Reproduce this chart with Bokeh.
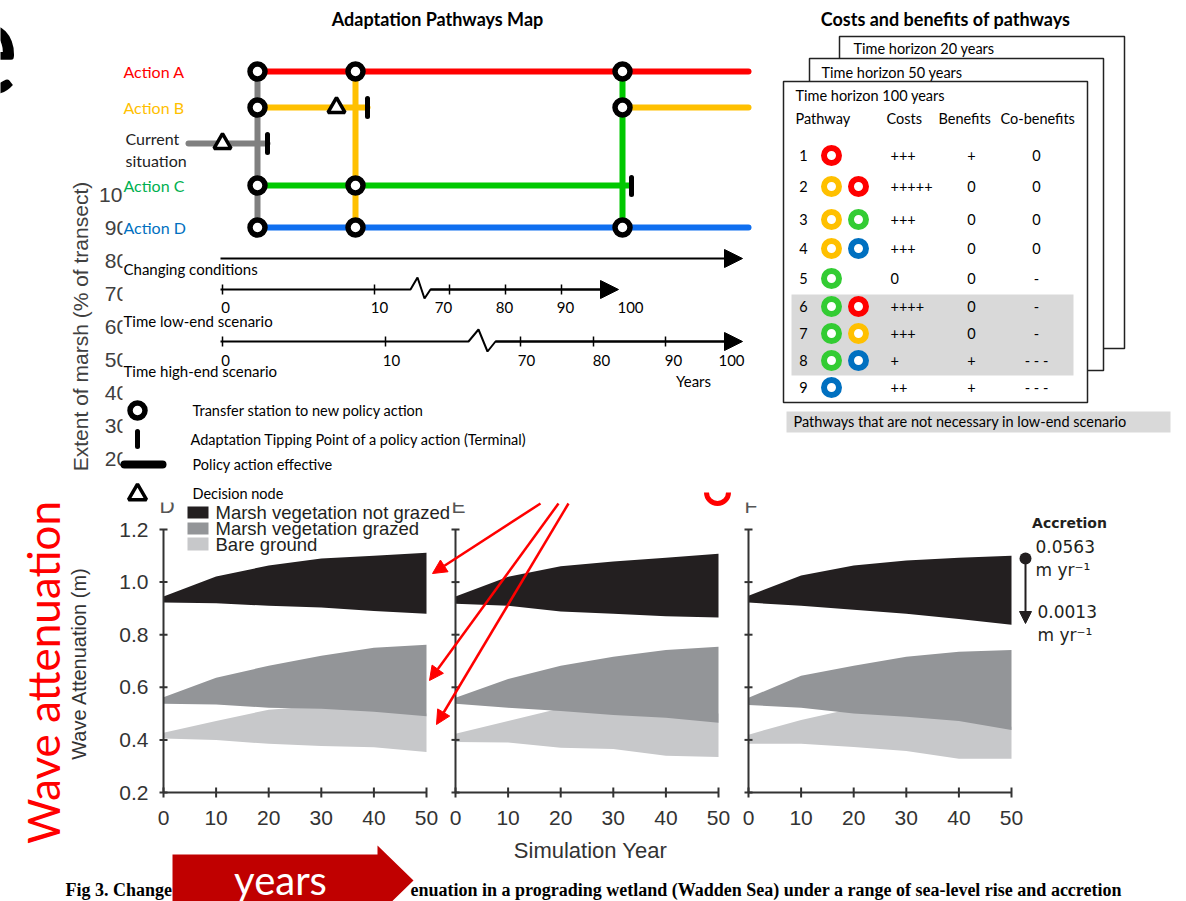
import math
from bokeh.plotting import figure
from bokeh.models import Range1d, Arrow, NormalHead
from bokeh.core.properties import value
from bokeh.embed import file_html
from bokeh.resources import INLINE

W, H = 1186, 901

# ---------------- wave attenuation (panels D, E, F) ----------------
sim_years = [0, 10, 20, 30, 40, 50]
atten_ticks = [0.2, 0.4, 0.6, 0.8, 1.0, 1.2]

d_ungrazed_lo = [0.922, 0.920, 0.910, 0.903, 0.890, 0.880]
d_ungrazed_hi = [0.945, 1.021, 1.063, 1.090, 1.100, 1.112]
d_grazed_lo = [0.537, 0.535, 0.522, 0.518, 0.507, 0.490]
d_grazed_hi = [0.562, 0.636, 0.682, 0.720, 0.750, 0.762]
d_bare_lo = [0.405, 0.400, 0.385, 0.377, 0.372, 0.354]
d_bare_hi = [0.427, 0.472, 0.515, 0.530, 0.520, 0.500]

e_ungrazed_lo = [0.918, 0.910, 0.888, 0.880, 0.870, 0.865]
e_ungrazed_hi = [0.945, 1.020, 1.060, 1.078, 1.093, 1.108]
e_grazed_lo = [0.537, 0.522, 0.510, 0.495, 0.484, 0.465]
e_grazed_hi = [0.560, 0.632, 0.682, 0.716, 0.742, 0.754]
e_bare_lo = [0.392, 0.390, 0.370, 0.365, 0.340, 0.335]
e_bare_hi = [0.423, 0.472, 0.520, 0.530, 0.520, 0.500]

f_ungrazed_lo = [0.922, 0.910, 0.895, 0.880, 0.860, 0.838]
f_ungrazed_hi = [0.948, 1.025, 1.063, 1.082, 1.093, 1.100]
f_grazed_lo = [0.533, 0.522, 0.500, 0.488, 0.472, 0.438]
f_grazed_hi = [0.560, 0.644, 0.682, 0.716, 0.735, 0.742]
f_bare_lo = [0.385, 0.385, 0.373, 0.358, 0.328, 0.328]
f_bare_hi = [0.420, 0.476, 0.520, 0.520, 0.500, 0.450]

extent_ticks = [100, 90, 80, 70, 60, 50, 40, 30, 20]

legend_labels = ["Marsh vegetation not grazed", "Marsh vegetation grazed", "Bare ground"]
band_colors = ["#231F20", "#939598", "#C7C8CA"]

# ---------------- pathways table ----------------
pathway_no = [1, 2, 3, 4, 5, 6, 7, 8, 9]
pathway_actions = [["A"], ["B", "A"], ["B", "C"], ["B", "D"], ["C"],
                   ["C", "A"], ["C", "B"], ["C", "D"], ["D"]]
pathway_costs = ["+++", "+++++", "+++", "+++", "0", "++++", "+++", "+", "++"]
pathway_benefits = ["+", "0", "0", "0", "0", "0", "0", "+", "+"]
pathway_cobenefits = ["0", "0", "0", "0", "-", "-", "-", "- - -", "- - -"]
not_needed_low_end = [6, 7, 8]

# timeline tick values
low_end_ticks = [0, 10, 70, 80, 90, 100]
high_end_ticks = [0, 10, 70, 80, 90, 100]

# ---------------- canvas ----------------
def x_map(v0, p0, v1, p1):
    f = lambda p: v0 + (p - p0) * (v1 - v0) / (p1 - p0)
    return Range1d(start=f(0), end=f(W))


def y_map(v0, p0, v1, p1):
    f = lambda p: v0 + (p - p0) * (v1 - v0) / (p1 - p0)
    return Range1d(start=f(H), end=f(0))


p = figure(width=W, height=H, x_range=Range1d(0, W), y_range=Range1d(H, 0),
           output_backend="svg", toolbar_location=None, min_border=0,
           x_axis_location=None, y_axis_location=None,
           outline_line_color=None, background_fill_color="white",
           border_fill_color="white")
p.grid.visible = False

p.extra_x_ranges = {
    "D": x_map(0, 163, 50, 426),
    "E": x_map(0, 455, 50, 718),
    "F": x_map(0, 748, 50, 1011),
}
p.extra_y_ranges = {
    "atten": y_map(1.2, 529, 0.2, 792),
    "extent": y_map(100, 194, 20, 458),
}

CAL = "Lato"
ARIAL = "Liberation Sans"
AX = "#333333"


def txt(x, y, s, size, color="black", font=CAL, style="normal", align="left",
        baseline="middle", angle=0.0, **kw):
    xs = x if isinstance(x, list) else [x]
    ys = y if isinstance(y, list) else [y]
    ss = s if isinstance(s, list) else [s]
    return p.text(x=xs, y=ys, text=ss, text_font=value(font),
                  text_font_size=f"{size}px", text_color=color,
                  text_font_style=style, text_align=align,
                  text_baseline=baseline, angle=angle, **kw)


# ---------------- Fig 3: extent of marsh axis (mostly hidden) ----------------
txt(80, 326, "Extent of marsh (% of transect)", 21, color="#404040", font=ARIAL,
    align="center", angle=math.pi / 2)
txt([116] * len(extent_ticks), extent_ticks, [str(v) for v in extent_ticks], 21,
    color="#404040", font=ARIAL, align="center", y_range_name="extent")

# ---------------- Fig 3: wave attenuation panels ----------------
panels = {
    "D": (d_bare_lo, d_bare_hi, d_grazed_lo, d_grazed_hi, d_ungrazed_lo, d_ungrazed_hi),
    "E": (e_bare_lo, e_bare_hi, e_grazed_lo, e_grazed_hi, e_ungrazed_lo, e_ungrazed_hi),
    "F": (f_bare_lo, f_bare_hi, f_grazed_lo, f_grazed_hi, f_ungrazed_lo, f_ungrazed_hi),
}
for name, (b_lo, b_hi, g_lo, g_hi, u_lo, u_hi) in panels.items():
    kw = dict(x_range_name=name, y_range_name="atten")
    p.varea(x=sim_years, y1=b_lo, y2=b_hi, fill_color=band_colors[2], **kw)
    p.varea(x=sim_years, y1=g_lo, y2=g_hi, fill_color=band_colors[1], **kw)
    p.varea(x=sim_years, y1=u_lo, y2=u_hi, fill_color=band_colors[0], **kw)
    x0, x1 = sim_years[0], sim_years[-1]
    y0, y1 = atten_ticks[0], atten_ticks[-1]
    p.line(x=[x0, x0, x1], y=[y1, y0, y0], line_color=AX, line_width=2, **kw)
    p.scatter(x=[x0] * len(atten_ticks), y=atten_ticks, marker="dash", size=8,
              line_color=AX, line_width=2, **kw)
    p.scatter(x=sim_years, y=[y0] * len(sim_years), marker="dash", size=10,
              angle=math.pi / 2, line_color=AX, line_width=2, **kw)
    txt(sim_years, [817] * len(sim_years), [str(v) for v in sim_years], 21,
        color=AX, font=ARIAL, align="center", x_range_name=name)
    txt(sim_years[0], 505, name, 21, color="#555555", font=ARIAL,
        align="left", x_offset=-4, x_range_name=name)

txt([148] * len(atten_ticks), atten_ticks, [f"{v:.1f}" for v in atten_ticks], 21,
    color=AX, font=ARIAL, align="right", y_range_name="atten")
txt(78, 663, "Wave Attenuation (m)", 20, color=AX, font=ARIAL, align="center",
    angle=math.pi / 2)
txt(590, 850, "Simulation Year", 22, color=AX, font=ARIAL, align="center")

# legend of Fig 3
p.quad(left=[187] * 3, right=[208] * 3, top=[506, 522, 537], bottom=[518, 534, 550],
       fill_color=band_colors, line_color=None)
txt([215] * 3, [512, 528, 544], legend_labels, 18.5, color="#231F20", font=ARIAL)

# accretion gradient
txt(1069, 522, "Accretion", 14, color="#231F20", font="DejaVu Sans", style="bold",
    align="center")
txt([1035, 1035, 1037, 1037], [546, 569, 611, 634],
    ["0.0563", "m yr\u207b\u00b9", "0.0013", "m yr\u207b\u00b9"], 17,
    color="#231F20", font="DejaVu Sans")
p.scatter(x=[1025], y=[558], size=12, fill_color="#231F20", line_color=None)
p.add_layout(Arrow(end=NormalHead(size=12, fill_color="#231F20", line_color="#231F20"),
                   x_start=1025, y_start=558, x_end=1025, y_end=623,
                   line_color="#231F20", line_width=2))

# red call-out arrows
for xs, xe, ye in [(540, 432, 573), (558, 429, 680), (568, 436, 724)]:
    p.add_layout(Arrow(end=NormalHead(size=14, fill_color="#FF0000", line_color="#FF0000"),
                       x_start=xs, y_start=503, x_end=xe, y_end=ye,
                       line_color="#FF0000", line_width=2.5))

# ---------------- white sheet of the pathways slide ----------------
p.quad(left=[122], right=[W], top=[0], bottom=[502], fill_color="white",
       line_color=None)

p.arc(x=[717], y=[492], radius=11, start_angle=math.pi, end_angle=2 * math.pi,
      direction="anticlock", line_color="#FF0000", line_width=5)

# ---------------- Adaptation Pathways Map ----------------
txt(437, 18, "Adaptation Pathways Map", 18, style="bold", align="center")

RED, ORANGE, GREEN, BLUE, GREY = "#FF0000", "#FFC000", "#00C800", "#0F6FF0", "#808080"
row_y = {"A": 71, "B": 107, "cur": 143, "C": 185, "D": 227}

txt([123, 123, 125, 125, 123, 123],
    [row_y["A"], row_y["B"], 138, 160, row_y["C"], row_y["D"]],
    ["Action A", "Action B", "Current", "situation", "Action C", "Action D"], 16,
    color=[RED, ORANGE, "#222222", "#222222", "#00B050", "#0070C0"])

# horizontal tracks
p.segment(x0=[257, 257, 622, 188, 257, 257], x1=[748, 367, 748, 267, 630, 748],
          y0=[row_y["A"], row_y["B"], row_y["B"], row_y["cur"], row_y["C"], row_y["D"]],
          y1=[row_y["A"], row_y["B"], row_y["B"], row_y["cur"], row_y["C"], row_y["D"]],
          line_color=[RED, ORANGE, ORANGE, GREY, GREEN, BLUE], line_width=6,
          line_cap="round")
# transfers
p.segment(x0=[257, 355, 622], x1=[257, 355, 622], y0=[row_y["A"]] * 3,
          y1=[row_y["D"]] * 3, line_color=[GREY, ORANGE, GREEN], line_width=6)
# tipping points
p.segment(x0=[267, 367, 631], x1=[267, 367, 631], y0=[134, 98, 177],
          y1=[152, 116, 194], line_color="black", line_width=5, line_cap="round")
# decision nodes
p.scatter(x=[222, 336], y=[143, 107], marker="triangle", size=17,
          fill_color="white", line_color="black", line_width=3.5)
# transfer stations
node_x = [257, 257, 257, 257, 355, 355, 355, 622, 622, 622]
node_y = [71, 107, 185, 227, 71, 185, 227, 71, 107, 227]
p.scatter(x=node_x, y=node_y, marker="circle", size=15, fill_color="white",
          line_color="black", line_width=5.5)

# timelines
txt(123, 268, "Changing conditions", 15)
txt(123, 320, "Time low-end scenario", 15)
txt(123, 370, "Time high-end scenario", 15)

p.add_layout(Arrow(end=NormalHead(size=18, fill_color="black"), x_start=220, y_start=258,
                   x_end=742, y_end=258, line_width=2))
p.line(x=[220, 410, 417, 424, 430, 600], y=[289, 289, 277, 298, 289, 289],
       line_color="black", line_width=2)
p.add_layout(Arrow(end=NormalHead(size=18, fill_color="black"), x_start=430, y_start=289,
                   x_end=618, y_end=289, line_width=2))
p.line(x=[220, 468, 478, 487, 495, 725], y=[341, 341, 329, 351, 341, 341],
       line_color="black", line_width=2)
p.add_layout(Arrow(end=NormalHead(size=18, fill_color="black"), x_start=495, y_start=341,
                   x_end=742, y_end=341, line_width=2))

low_tick_x = [222, 374, 449, 505, 561]
high_tick_x = [222, 385, 520, 593, 665]
p.segment(x0=low_tick_x, x1=low_tick_x, y0=[284] * 5, y1=[294] * 5,
          line_color="black", line_width=1.5)
p.segment(x0=high_tick_x, x1=high_tick_x, y0=[336] * 5, y1=[346] * 5,
          line_color="black", line_width=1.5)
txt([225, 379, 443, 504, 565, 630], [307] * 6, [str(v) for v in low_end_ticks], 15,
    align="center")
txt([225, 391, 526, 601, 673, 731], [360] * 6, [str(v) for v in high_end_ticks], 15,
    align="center")
txt(693, 380, "Years", 15, align="center")

# symbol legend
p.scatter(x=[137], y=[410], marker="circle", size=15, fill_color="white",
          line_color="black", line_width=5.5)
p.segment(x0=[137, 124], x1=[137, 162], y0=[431, 464], y1=[446, 464],
          line_color="black", line_width=[5, 8], line_cap="round")
p.scatter(x=[137], y=[494], marker="triangle", size=18, fill_color="white",
          line_color="black", line_width=3.5)
txt([192, 190, 192, 192], [410, 439, 464, 493],
    ["Transfer station to new policy action",
     "Adaptation Tipping Point of a policy action (Terminal)",
     "Policy action effective", "Decision node"], 14.5)

# ---------------- Costs and benefits table ----------------
txt(945, 18, "Costs and benefits of pathways", 18, style="bold", align="center")
p.quad(left=[839, 809, 783], right=[1124, 1103, 1087], top=[36, 58, 81],
       bottom=[348, 370, 402], fill_color="white", line_color="#222222",
       line_width=1.5)
txt([853, 821, 795], [48, 72, 95],
    ["Time horizon 20 years", "Time horizon 50 years", "Time horizon 100 years"], 14.5)
txt([795, 886, 938, 1000], [118] * 4, ["Pathway", "Costs", "Benefits", "Co-benefits"], 14.5)

table_y = [155, 186, 219, 248, 278, 306, 333, 360, 387]
grey_rows = [table_y[pathway_no.index(n)] for n in not_needed_low_end]
p.quad(left=[791], right=[1073], top=[grey_rows[0] - 12], bottom=[grey_rows[-1] + 15],
       fill_color="#D9D9D9", line_color=None)

ring_color = {"A": "#FF0000", "B": "#FFC000", "C": "#33CC33", "D": "#0070C0"}
rx, ry, rc = [], [], []
for yy, acts in zip(table_y, pathway_actions):
    for k, a in enumerate(acts):
        rx.append(831 + 27 * k)
        ry.append(yy)
        rc.append(ring_color[a])
p.scatter(x=rx, y=ry, marker="circle", size=15, fill_color="white", line_color=rc,
          line_width=6)
txt([803] * 9, table_y, [str(n) for n in pathway_no], 14.5, align="center")
txt([890] * 9, table_y, pathway_costs, 14.5)
txt([971] * 9, table_y, pathway_benefits, 14.5, align="center")
txt([1036] * 9, table_y, pathway_cobenefits, 14.5, align="center")

p.quad(left=[786], right=[1170], top=[411], bottom=[432], fill_color="#D9D9D9",
       line_color=None)
txt(793, 421, "Pathways that are not necessary in low-end scenario", 14.5)

# ---------------- slide overlays ----------------
txt(19, 44, "e", 140, align="right")
txt(42, 672, "Wave attenuation", 44, color="#FF0000", align="center",
    angle=math.pi / 2)

txt(65, 889, "Fig 3. Change", 18, font="Liberation Serif", style="bold")
txt(410, 889, "enuation in a prograding wetland (Wadden Sea) under a range of "
    "sea-level rise and accretion", 18, font="Liberation Serif", style="bold")

p.patch(x=[172, 377, 377, 413, 377, 377, 172], y=[854, 854, 845, 880, 915, 906, 906],
        fill_color="#C00000", line_color=None)
txt(280, 879, "years", 40, color="white", align="center")

open("out.html", "w").write(file_html(p, INLINE))
